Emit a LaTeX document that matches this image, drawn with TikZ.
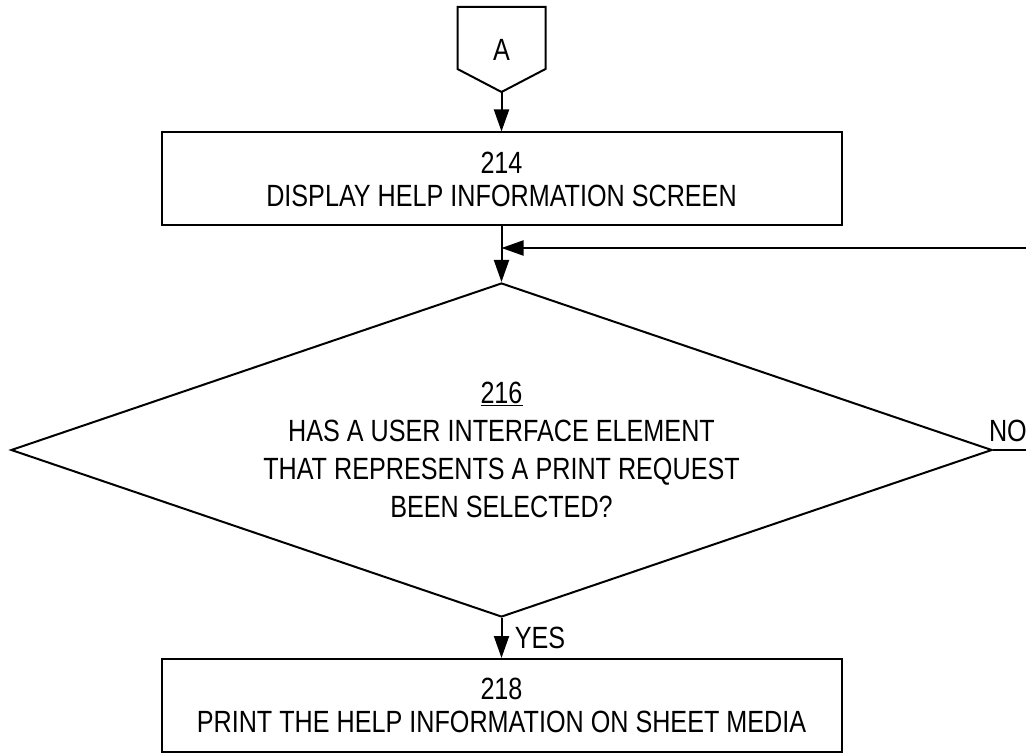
\documentclass[tikz,border=0pt]{standalone}
\usepackage{fontspec}
\setmainfont{Liberation Sans}[FakeStretch=0.82]
\usetikzlibrary{shapes,arrows.meta,positioning}
\tikzset{
block/.style = {draw, fill=white, rectangle, minimum height=93pt, minimum width=680pt, align=center, font=\fontsize{30.7}{33}\selectfont},
decision/.style = {draw, fill=white, diamond, aspect=2.94, inner sep=0pt, minimum width=981pt, minimum height=334pt, align=center, font=\fontsize{30.7}{38}\selectfont},
offpage/.style = {rectangle, minimum width=86pt, minimum height=83pt, font=\fontsize{30.7}{33}\selectfont},
tmp/.style  = {coordinate},
label/.style = {font=\fontsize{30.7}{33}\selectfont}
}

\begin{document}
\begin{tikzpicture}[x=1pt, y=1pt, line width=2pt, >={Triangle[length=22pt,width=15pt]}]
        \useasboundingbox (0,0) rectangle (1026,-754);
        \node [offpage] (a) at (501.5,-49.5) {A};
        \draw (a.north west) -- (a.north east) -- ([yshift=23pt]a.south east) -- (a.south) -- ([yshift=23pt]a.south west) -- cycle;
        \node [block, below of=a, node distance=129.5pt] (display) {214\\DISPLAY HELP INFORMATION SCREEN};
        \node [tmp, below of=display, node distance=69pt] (tmp1) {};
        \node [decision, below of=display, node distance=271pt] (select) {\underline{216}\\HAS A USER INTERFACE ELEMENT\\THAT REPRESENTS A PRINT REQUEST\\BEEN SELECTED?};
        \node [block, below of=select, node distance=255.5pt] (print) {218\\PRINT THE HELP INFORMATION ON SHEET MEDIA};
        \node [tmp, right of=select, node distance=540pt] (tmp2) {};
        \draw [->] (a.south) -- (display);
        \draw [->] (display) -- (select);
        \draw [->] (select) -- node [label, right, xshift=9pt] {YES} (print);
        \draw [->] (select.east) -- node [label, pos=0, above right, inner sep=0pt, yshift=7pt, xshift=-5pt] {NO} (tmp2) |- (tmp1);
        \end{tikzpicture}
\end{document}
